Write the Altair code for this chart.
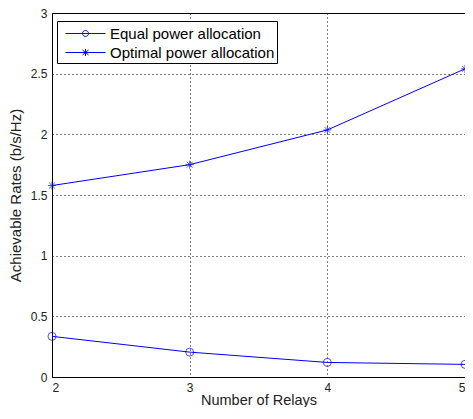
import altair as alt
import pandas as pd

relays = [2, 3, 4, 5]
equal_rates = [0.335, 0.205, 0.12, 0.104]
optimal_rates = [1.578, 1.75, 2.036, 2.54]
series_names = ["Equal power allocation", "Optimal power allocation"]
x_ticks = [2, 3, 4, 5]
y_ticks = [0, 0.5, 1, 1.5, 2, 2.5, 3]

rows = []
for x, e, o in zip(relays, equal_rates, optimal_rates):
    rows.append({"relays": x, "rate": e, "series": series_names[0]})
    rows.append({"relays": x, "rate": o, "series": series_names[1]})
df = pd.DataFrame(rows)

BLUE = "#0000ff"
FONT = "Liberation Sans"

star = "M-1,0L1,0M0,-1L0,1M-0.7,-0.7L0.7,0.7M-0.7,0.7L0.7,-0.7"
leg_circle = ("M-0.4,0L3.6,0M1.9,0A0.3,0.3,0,1,1,1.3,0A0.3,0.3,0,1,1,1.9,0")
leg_star = ("M-0.4,0L3.6,0M1.6,-0.35L1.6,0.35M1.3,-0.25L1.9,0.25M1.3,0.25L1.9,-0.25")

x_enc = alt.X("relays:Q", scale=alt.Scale(domain=[2, 5], nice=False),
              axis=alt.Axis(values=x_ticks, title="Number of Relays", format="d",
                            ticks=False, tickSize=0, labelPadding=5, titlePadding=0,
                            titleFontSize=14.5))
y_enc = alt.Y("rate:Q", scale=alt.Scale(domain=[0, 3], nice=False),
              axis=alt.Axis(values=y_ticks, title="Achievable Rates (b/s/Hz)", format="~g",
                            ticks=False, tickSize=0, labelPadding=5, titlePadding=7))

lines = alt.Chart(df).mark_line(color=BLUE, strokeWidth=1).encode(
    x=x_enc, y=y_enc, detail="series:N")

points = alt.Chart(df).mark_point(color=BLUE, filled=False, strokeWidth=1, size=64).encode(
    x="relays:Q", y="rate:Q",
    shape=alt.Shape("series:N", scale=alt.Scale(domain=series_names, range=["circle", star]),
                    legend=None))

legend_layer = alt.Chart(df).mark_point(color=BLUE, filled=False, strokeWidth=1, opacity=0,
                                        size=400).encode(
    x="relays:Q", y="rate:Q",
    shape=alt.Shape("series:N",
                    scale=alt.Scale(domain=series_names, range=[leg_circle, leg_star]),
                    legend=alt.Legend(title=None, orient="none", legendX=5, legendY=8,
                                      padding=2, rowPadding=0, labelOffset=30,
                                      symbolOpacity=1, symbolSize=400,
                                      symbolStrokeColor=BLUE, symbolStrokeWidth=1,
                                      symbolFillColor="transparent",
                                      labelFontSize=15, labelFont=FONT, labelColor="#000",
                                      labelLimit=300,
                                      labelExpr="datum.label + '\u00a0\u00a0\u00a0\u00a0\u00a0'",
                                      strokeColor="#000", fillColor="#fff")))

chart = alt.layer(lines, points, legend_layer).resolve_scale(shape="independent").properties(
    width=413, height=364,
    autosize=alt.AutoSizeParams(type="none"),
    padding={"left": 44, "top": 5, "right": 0, "bottom": 30},
).configure_view(stroke="#000", strokeWidth=1).configure_axis(
    grid=True, gridColor="#000", gridDash=[1, 3], gridOpacity=1, gridWidth=1,
    domainColor="#000", domainWidth=1,
    labelFont=FONT, labelFontSize=12, labelColor="#222",
    titleFont=FONT, titleFontSize=15, titleFontWeight="normal", titleColor="#222",
)

chart.save("out.html", embed_options={"renderer": "svg", "actions": False})
